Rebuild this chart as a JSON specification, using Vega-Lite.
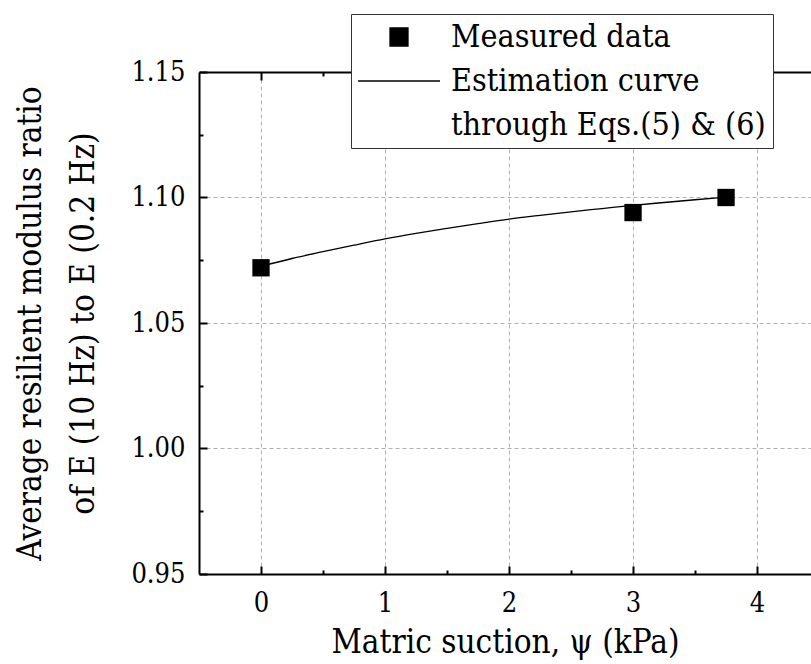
{
  "$schema": "https://vega.github.io/schema/vega-lite/v6.json",
  "width": 612,
  "height": 502,
  "autosize": "none",
  "padding": {"left": 199, "top": 72, "right": 0, "bottom": 90},
  "background": "white",
  "config": {
    "view": {"stroke": null},
    "axis": {
      "labelFont": "DejaVu Serif Condensed",
      "labelFontSize": 27,
      "labelColor": "black",
      "titleFont": "DejaVu Serif Condensed",
      "titleFontSize": 33,
      "titleFontWeight": "normal",
      "titleColor": "black",
      "domainColor": "black",
      "domainWidth": 2,
      "tickColor": "black",
      "tickWidth": 2,
      "gridColor": "#b0b0b0",
      "gridDash": [4, 3],
      "gridWidth": 1
    },
    "legend": {
      "labelFont": "DejaVu Serif Condensed",
      "labelFontSize": 32,
      "labelColor": "black"
    }
  },
  "resolve": {"axis": {"x": "independent", "y": "independent"}},
  "layer": [
    {
      "data": {"values": [
        {"psi": 0, "ratio": 1.0726, "series": "Estimation curve"},
        {"psi": 0.25, "ratio": 1.0757, "series": "Estimation curve"},
        {"psi": 0.5, "ratio": 1.0784, "series": "Estimation curve"},
        {"psi": 0.75, "ratio": 1.0810, "series": "Estimation curve"},
        {"psi": 1, "ratio": 1.0835, "series": "Estimation curve"},
        {"psi": 1.25, "ratio": 1.0857, "series": "Estimation curve"},
        {"psi": 1.5, "ratio": 1.0877, "series": "Estimation curve"},
        {"psi": 1.75, "ratio": 1.0896, "series": "Estimation curve"},
        {"psi": 2, "ratio": 1.0914, "series": "Estimation curve"},
        {"psi": 2.25, "ratio": 1.0929, "series": "Estimation curve"},
        {"psi": 2.5, "ratio": 1.0943, "series": "Estimation curve"},
        {"psi": 2.75, "ratio": 1.0956, "series": "Estimation curve"},
        {"psi": 3, "ratio": 1.0969, "series": "Estimation curve"},
        {"psi": 3.25, "ratio": 1.0980, "series": "Estimation curve"},
        {"psi": 3.5, "ratio": 1.0991, "series": "Estimation curve"},
        {"psi": 3.75, "ratio": 1.1001, "series": "Estimation curve"}
      ]},
      "mark": {"type": "line", "strokeWidth": 1.3, "interpolate": "monotone"},
      "encoding": {
        "x": {
          "field": "psi", "type": "quantitative",
          "scale": {"domain": [-0.5, 4.435], "nice": false, "zero": false},
          "axis": {
            "orient": "top", "title": null, "labels": false, "grid": false, "ticks": false, "domain": true
          }
        },
        "y": {
          "field": "ratio", "type": "quantitative",
          "scale": {"domain": [0.95, 1.15], "nice": false, "zero": false},
          "axis": {
            "orient": "right", "offset": -612, "title": null, "labels": false, "grid": false, "domain": false,
            "ticks": true, "values": [0.95, 1.0, 1.05, 1.1, 1.15], "tickSize": 8
          }
        },
        "color": {
          "field": "series", "type": "nominal",
          "scale": {"domain": ["Measured data", "Estimation curve", "through Eqs.(5) & (6)"], "range": ["black", "black", "black"]},
          "legend": {
            "title": null,
            "orient": "none",
            "legendX": 152,
            "legendY": -58,
            "padding": 7,
            "fillColor": "white",
            "strokeColor": "#333333",
            "symbolSize": 324,
            "symbolOffset": 25,
            "labelOffset": 36,
            "rowPadding": 12,
            "labelLimit": 500,
            "symbolType": "stroke",
            "encode": {
              "symbols": {
                "update": {
                  "shape": {"signal": "datum.value === 'Measured data' ? 'square' : 'stroke'"},
                  "size": {"signal": "datum.value === 'Estimation curve' ? 6724 : 324"},
                  "stroke": {"value": "black"},
                  "strokeWidth": {"value": 1.3},
                  "fill": {"value": "black"},
                  "opacity": {"signal": "datum.value === 'through Eqs.(5) & (6)' ? 0 : 1"}
                }
              }
            }
          }
        }
      }
    },
    {
      "data": {"values": [{"psi": 0.5, "ratio": 1.0}]},
      "mark": {"type": "point", "opacity": 0},
      "encoding": {
        "x": {
          "field": "psi", "type": "quantitative",
          "scale": {"domain": [-0.5, 4.435], "nice": false, "zero": false},
          "axis": {
            "orient": "top", "offset": -502, "title": null, "labels": false, "grid": false, "domain": false,
            "ticks": true, "values": [0, 1, 2, 3, 4], "tickSize": 8
          }
        },
        "y": {
          "field": "ratio", "type": "quantitative",
          "scale": {"domain": [0.95, 1.15], "nice": false, "zero": false},
          "axis": {
            "orient": "right", "offset": -612, "title": null, "labels": false, "grid": false, "domain": false,
            "ticks": true, "values": [0.975, 1.025, 1.075, 1.125], "tickSize": 4
          }
        }
      }
    },
    {
      "data": {"values": [{"psi": 0.5, "ratio": 1.0}]},
      "mark": {"type": "point", "opacity": 0},
      "encoding": {
        "x": {
          "field": "psi", "type": "quantitative",
          "scale": {"domain": [-0.5, 4.435], "nice": false, "zero": false},
          "axis": {
            "orient": "top", "offset": -502, "title": null, "labels": false, "grid": false, "domain": false,
            "ticks": true, "values": [0.5, 1.5, 2.5, 3.5], "tickSize": 4
          }
        },
        "y": {
          "field": "ratio", "type": "quantitative",
          "scale": {"domain": [0.95, 1.15], "nice": false, "zero": false},
          "axis": null
        }
      }
    },
    {
      "data": {"values": [{"psi": 0.5, "ratio": 1.0}]},
      "mark": {"type": "point", "opacity": 0},
      "encoding": {
        "x": {
          "field": "psi", "type": "quantitative",
          "scale": {"domain": [-0.5, 4.435], "nice": false, "zero": false},
          "axis": {
            "orient": "bottom", "offset": -502, "title": null, "labels": false, "grid": false, "domain": false,
            "ticks": true, "values": [0, 1, 2, 3, 4], "tickSize": 8
          }
        },
        "y": {
          "field": "ratio", "type": "quantitative",
          "scale": {"domain": [0.95, 1.15], "nice": false, "zero": false},
          "axis": null
        }
      }
    },
    {
      "data": {"values": [{"psi": 0.5, "ratio": 1.0}]},
      "mark": {"type": "point", "opacity": 0},
      "encoding": {
        "x": {
          "field": "psi", "type": "quantitative",
          "scale": {"domain": [-0.5, 4.435], "nice": false, "zero": false},
          "axis": {
            "orient": "bottom", "offset": -502, "title": null, "labels": false, "grid": false, "domain": false,
            "ticks": true, "values": [0.5, 1.5, 2.5, 3.5], "tickSize": 4
          }
        },
        "y": {
          "field": "ratio", "type": "quantitative",
          "scale": {"domain": [0.95, 1.15], "nice": false, "zero": false},
          "axis": null
        }
      }
    },
    {
      "data": {"values": [
        {"psi": 0, "ratio": 1.072},
        {"psi": 3, "ratio": 1.094},
        {"psi": 3.75, "ratio": 1.100}
      ]},
      "mark": {"type": "point", "shape": "square", "filled": true, "color": "black", "opacity": 1, "size": 300},
      "encoding": {
        "x": {
          "field": "psi", "type": "quantitative",
          "scale": {"domain": [-0.5, 4.435], "nice": false, "zero": false},
          "axis": {
            "orient": "bottom", "title": "Matric suction, ψ (kPa)",
            "values": [0, 1, 2, 3, 4],
            "format": "d",
            "ticks": false,
            "grid": true,
            "labelPadding": 16,
            "titlePadding": 10
          }
        },
        "y": {
          "field": "ratio", "type": "quantitative",
          "scale": {"domain": [0.95, 1.15], "nice": false, "zero": false},
          "axis": {
            "orient": "left",
            "title": ["Average resilient modulus ratio", "of E (10 Hz) to E (0.2 Hz)"],
            "titleLineHeight": 53,
            "values": [0.95, 1.0, 1.05, 1.1, 1.15],
            "format": ".2f",
            "ticks": false,
            "grid": true,
            "labelPadding": 14,
            "titlePadding": 30
          }
        }
      }
    }
  ]
}
